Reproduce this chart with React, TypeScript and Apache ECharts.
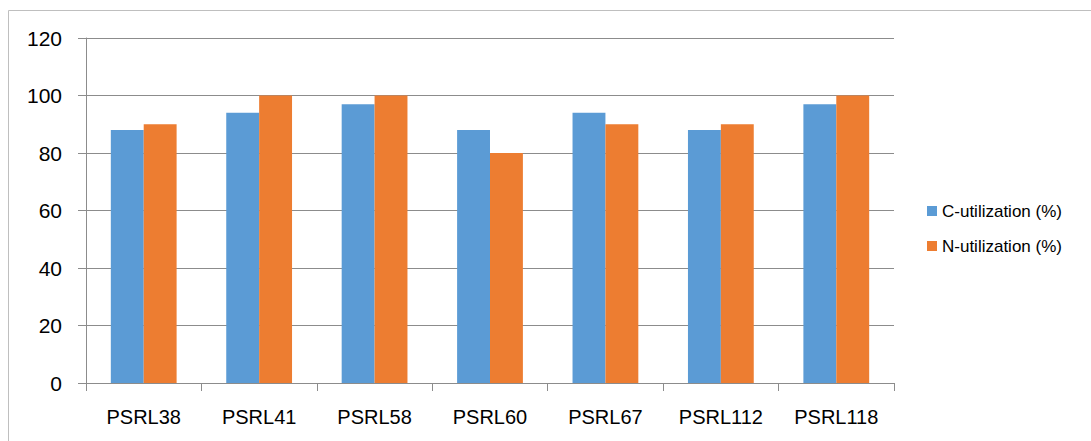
import React, { useEffect, useRef } from "react";
import * as echarts from "echarts";

const categories = ["PSRL38", "PSRL41", "PSRL58", "PSRL60", "PSRL67", "PSRL112", "PSRL118"];
const cUtilization = [88, 94, 97, 88, 94, 88, 97];
const nUtilization = [90, 100, 100, 80, 90, 90, 100];
const seriesNames = ["C-utilization (%)", "N-utilization (%)"];

const FONT = "'Liberation Sans', Arial, sans-serif";

export default function App() {
  const ref = useRef<HTMLDivElement>(null);
  useEffect(() => {
    if (!ref.current) return;
    const chart = echarts.init(ref.current, undefined, { renderer: "svg" });
    chart.setOption({
      animation: false,
      backgroundColor: "#ffffff",
      graphic: [
        {
          type: "rect",
          shape: { x: 8.5, y: 10.5, width: 1200, height: 600 },
          style: { fill: "none", stroke: "#BFBFBF", lineWidth: 1 },
          silent: true,
        },
      ],
      grid: { left: 86, top: 38, right: 197, bottom: 58, containLabel: false },
      legend: {
        orient: "vertical",
        left: 922,
        top: 196,
        itemWidth: 10,
        itemHeight: 10,
        itemGap: 15,
        icon: "rect",
        textStyle: { fontFamily: FONT, fontSize: 17, color: "#000", lineHeight: 20 },
        data: seriesNames,
      },
      xAxis: {
        type: "category",
        data: categories,
        axisLine: { lineStyle: { color: "#8C8C8C", width: 1 } },
        axisTick: { show: true, length: 8, lineStyle: { color: "#8C8C8C" } },
        axisLabel: { fontFamily: FONT, fontSize: 20, color: "#000", margin: 24, interval: 0 },
      },
      yAxis: {
        type: "value",
        min: 0,
        max: 120,
        interval: 20,
        axisLine: { show: true, lineStyle: { color: "#8C8C8C", width: 1 } },
        axisTick: { show: true, length: 8, lineStyle: { color: "#8C8C8C" } },
        splitLine: { show: true, lineStyle: { color: "#8C8C8C", width: 1 } },
        axisLabel: { fontFamily: FONT, fontSize: 21, color: "#000", margin: 24 },
      },
      series: [
        {
          name: seriesNames[0],
          type: "bar",
          data: cUtilization,
          itemStyle: { color: "#5B9BD5" },
          barGap: "0%",
          barCategoryGap: "43%",
        },
        {
          name: seriesNames[1],
          type: "bar",
          data: nUtilization,
          itemStyle: { color: "#ED7D31" },
          barGap: "0%",
          barCategoryGap: "43%",
        },
      ],
    });
    return () => chart.dispose();
  }, []);
  return (
    <div
      ref={ref}
      style={{ position: "fixed", left: 0, top: 0, width: 1091, height: 441 }}
    />
  );
}
